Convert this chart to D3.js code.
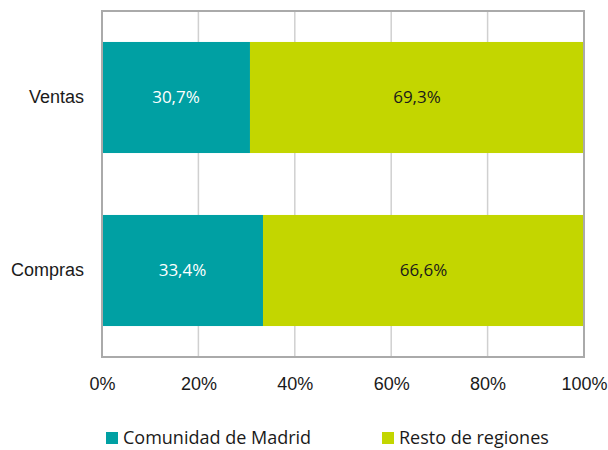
<!DOCTYPE html>
<meta charset="utf-8">
<style>
body { margin: 0; background: #fff; font-family: "Open Sans", "Noto Sans", sans-serif; }
.axis text { font-size: 18px; fill: #1a1a1a; }
.axis path, .axis line { display: none; }
.grid line { stroke: #d0d0d0; stroke-width: 1.5px; }
</style>
<svg width="608" height="450"></svg>
<script src="https://cdn.jsdelivr.net/npm/d3@7"></script>
<script>
var categories = ["Ventas", "Compras"];
var madrid = [30.7, 33.4];
var resto = [69.3, 66.6];
var seriesNames = ["Comunidad de Madrid", "Resto de regiones"];
var colors = ["#00a0a3", "#c3d600"];
var ticks = [0, 20, 40, 60, 80, 100];

var svg = d3.select("svg"),
    margin = {top: 11, right: 24, bottom: 93, left: 102},
    width = +svg.attr("width") - margin.left - margin.right,
    height = +svg.attr("height") - margin.top - margin.bottom;

var g = svg.append("g").attr("transform", "translate(" + margin.left + "," + margin.top + ")");

var x = d3.scaleLinear().domain([0, 100]).range([0, width]);
var y = d3.scaleBand().domain(categories).range([0, height]).paddingInner(0.358).paddingOuter(0.179);

g.append("g").attr("class", "grid")
  .selectAll("line").data(ticks.slice(1, -1)).enter().append("line")
    .attr("x1", function(d) { return x(d); }).attr("x2", function(d) { return x(d); })
    .attr("y1", 0).attr("y2", height);

var data = categories.map(function(c, i) { return {cat: c, a: madrid[i], b: resto[i]}; });

var rows = g.selectAll(".row").data(data).enter().append("g").attr("class", "row");
rows.append("rect")
  .attr("x", x(0)).attr("y", function(d) { return y(d.cat); })
  .attr("width", function(d) { return x(d.a) - x(0); })
  .attr("height", y.bandwidth()).attr("fill", colors[0]);
rows.append("rect")
  .attr("x", function(d) { return x(d.a); }).attr("y", function(d) { return y(d.cat); })
  .attr("width", function(d) { return x(d.a + d.b) - x(d.a); })
  .attr("height", y.bandwidth()).attr("fill", colors[1]);

function fmt(v) { return v.toFixed(1).replace(".", ",") + "%"; }
rows.append("text")
  .attr("x", function(d) { return x(d.a / 2); })
  .attr("y", function(d) { return y(d.cat) + y.bandwidth() / 2; })
  .attr("dy", "0.35em").attr("text-anchor", "middle")
  .style("font-size", "17px").attr("fill", "#fff")
  .text(function(d) { return fmt(d.a); });
rows.append("text")
  .attr("x", function(d) { return x(d.a + d.b / 2); })
  .attr("y", function(d) { return y(d.cat) + y.bandwidth() / 2; })
  .attr("dy", "0.35em").attr("text-anchor", "middle")
  .style("font-size", "17px").attr("fill", "#1a1a1a")
  .text(function(d) { return fmt(d.b); });

// frame
g.append("rect").attr("x", 0).attr("y", 0).attr("width", width).attr("height", height)
  .attr("fill", "none").attr("stroke", "#aaaaaa").attr("stroke-width", 2);

g.append("g").attr("class", "axis")
  .attr("transform", "translate(0," + height + ")")
  .call(d3.axisBottom(x).tickValues(ticks).tickSize(0).tickPadding(20).tickFormat(function(d) { return d + "%"; }));

g.append("g").attr("class", "axis")
  .call(d3.axisLeft(y).tickSize(0).tickPadding(18));

var legend = svg.append("g").attr("transform", "translate(0,438)");
var lx = [106, 382];
seriesNames.forEach(function(n, i) {
  legend.append("rect").attr("x", lx[i]).attr("y", -6).attr("width", 12).attr("height", 12).attr("fill", colors[i]);
  legend.append("text").attr("x", lx[i] + 17).attr("y", 0).attr("dy", "0.35em")
    .style("font-size", "18px").attr("fill", "#1a1a1a").text(n);
});
</script>
